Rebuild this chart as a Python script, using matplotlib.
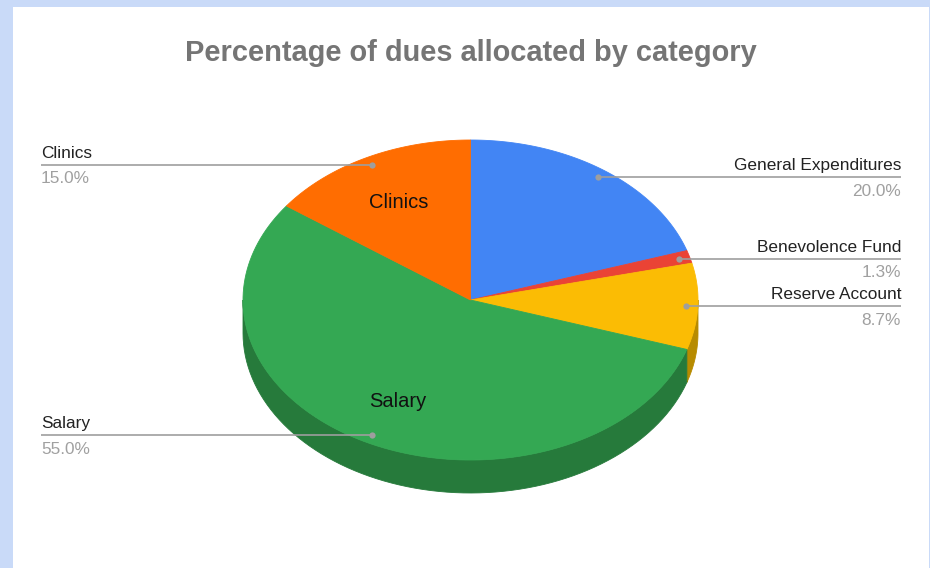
import numpy as np
import matplotlib.pyplot as plt
from matplotlib.patches import Rectangle

# chart data
categories = ["General Expenditures", "Benevolence Fund", "Reserve Account", "Salary", "Clinics"]
shares = [20.0, 1.3, 8.7, 55.0, 15.0]
colors = ["#4285f4", "#ea4335", "#fbbc04", "#34a853", "#ff6d01"]
side_colors = ["#2f5fae", "#a52f25", "#b78b00", "#267a3b", "#b84d00"]
inside_labels = ["Clinics", "Salary"]
title = "Percentage of dues allocated by category"

W, H = 930, 568
fig = plt.figure(figsize=(W / 100, H / 100), dpi=100)
fig.patch.set_facecolor("#c9daf8")
ax = fig.add_axes([0, 0, 1, 1])
ax.set_xlim(0, W)
ax.set_ylim(H, 0)
ax.axis("off")
ax.add_patch(Rectangle((13, 7), 916, H, facecolor="white", edgecolor="none"))

plt.rcParams["font.family"] = ["Liberation Sans", "DejaVu Sans"]

# pie geometry (pixels)
cx, cy = 470.5, 300.0
ra, rb = 227.5, 160.0
depth = 33.0


def pt(theta, r=1.0, dy=0.0):
    # theta in degrees, math convention, on the tilted disc
    t = np.radians(theta)
    return cx + r * ra * np.cos(t), cy - r * rb * np.sin(t) + dy


fracs = np.array(shares) / sum(shares)
starts = 90 - 360 * np.concatenate([[0], np.cumsum(fracs)[:-1]])
ends = starts - 360 * fracs

# side wall (front half only: angles between -180 and 0)
for s, e, c in zip(starts, ends, side_colors):
    lo, hi = e, s
    a0 = max(lo, -180)
    a1 = min(hi, 0)
    if a0 >= a1:
        # try the wrapped range
        a0 = max(lo + 360, -180)
        a1 = min(hi + 360, 0)
        if a0 >= a1:
            continue
    th = np.linspace(a1, a0, 80)
    x1, y1 = pt(th)
    x2, y2 = pt(th[::-1], dy=depth)
    ax.fill(np.concatenate([x1, x2]), np.concatenate([y1, y2]), color=c, lw=0.6, ec=c)

# top face
for s, e, c in zip(starts, ends, colors):
    th = np.linspace(s, e, 120)
    x, y = pt(th)
    ax.fill(np.concatenate([[cx], x]), np.concatenate([[cy], y]), color=c, lw=0.6, ec=c)

# labels inside slices
for name, s, e in zip(categories, starts, ends):
    mid = (s + e) / 2
    if name in inside_labels:
        x, y = pt(mid, 0.7)
        ax.text(x, y + 2, name, ha="center", va="center", fontsize=14.5, color="#111111")

# leader lines with outside labels
for name, v, s, e in zip(categories, shares, starts, ends):
    mid = (s + e) / 2
    dx, dy = pt(mid, 0.95)
    right = np.cos(np.radians(mid)) > 0
    xe = 901 if right else 41
    ax.plot([dx, xe], [dy, dy], color="#9e9e9e", lw=1.2, solid_capstyle="butt")
    ax.plot(dx, dy, "o", color="#9e9e9e", ms=4.5, mec="none")
    ha = "right" if right else "left"
    ax.text(xe, dy - 11.5, name, ha=ha, va="center", fontsize=12.4, color="#222222")
    ax.text(xe, dy + 14, f"{v:.1f}%", ha=ha, va="center", fontsize=12.4, color="#a0a0a0")

ax.text(470.5, 53, title, ha="center", va="center", fontsize=20.9,
        fontweight="bold", color="#757575")

fig.savefig("out.png", dpi=100, facecolor=fig.get_facecolor())
